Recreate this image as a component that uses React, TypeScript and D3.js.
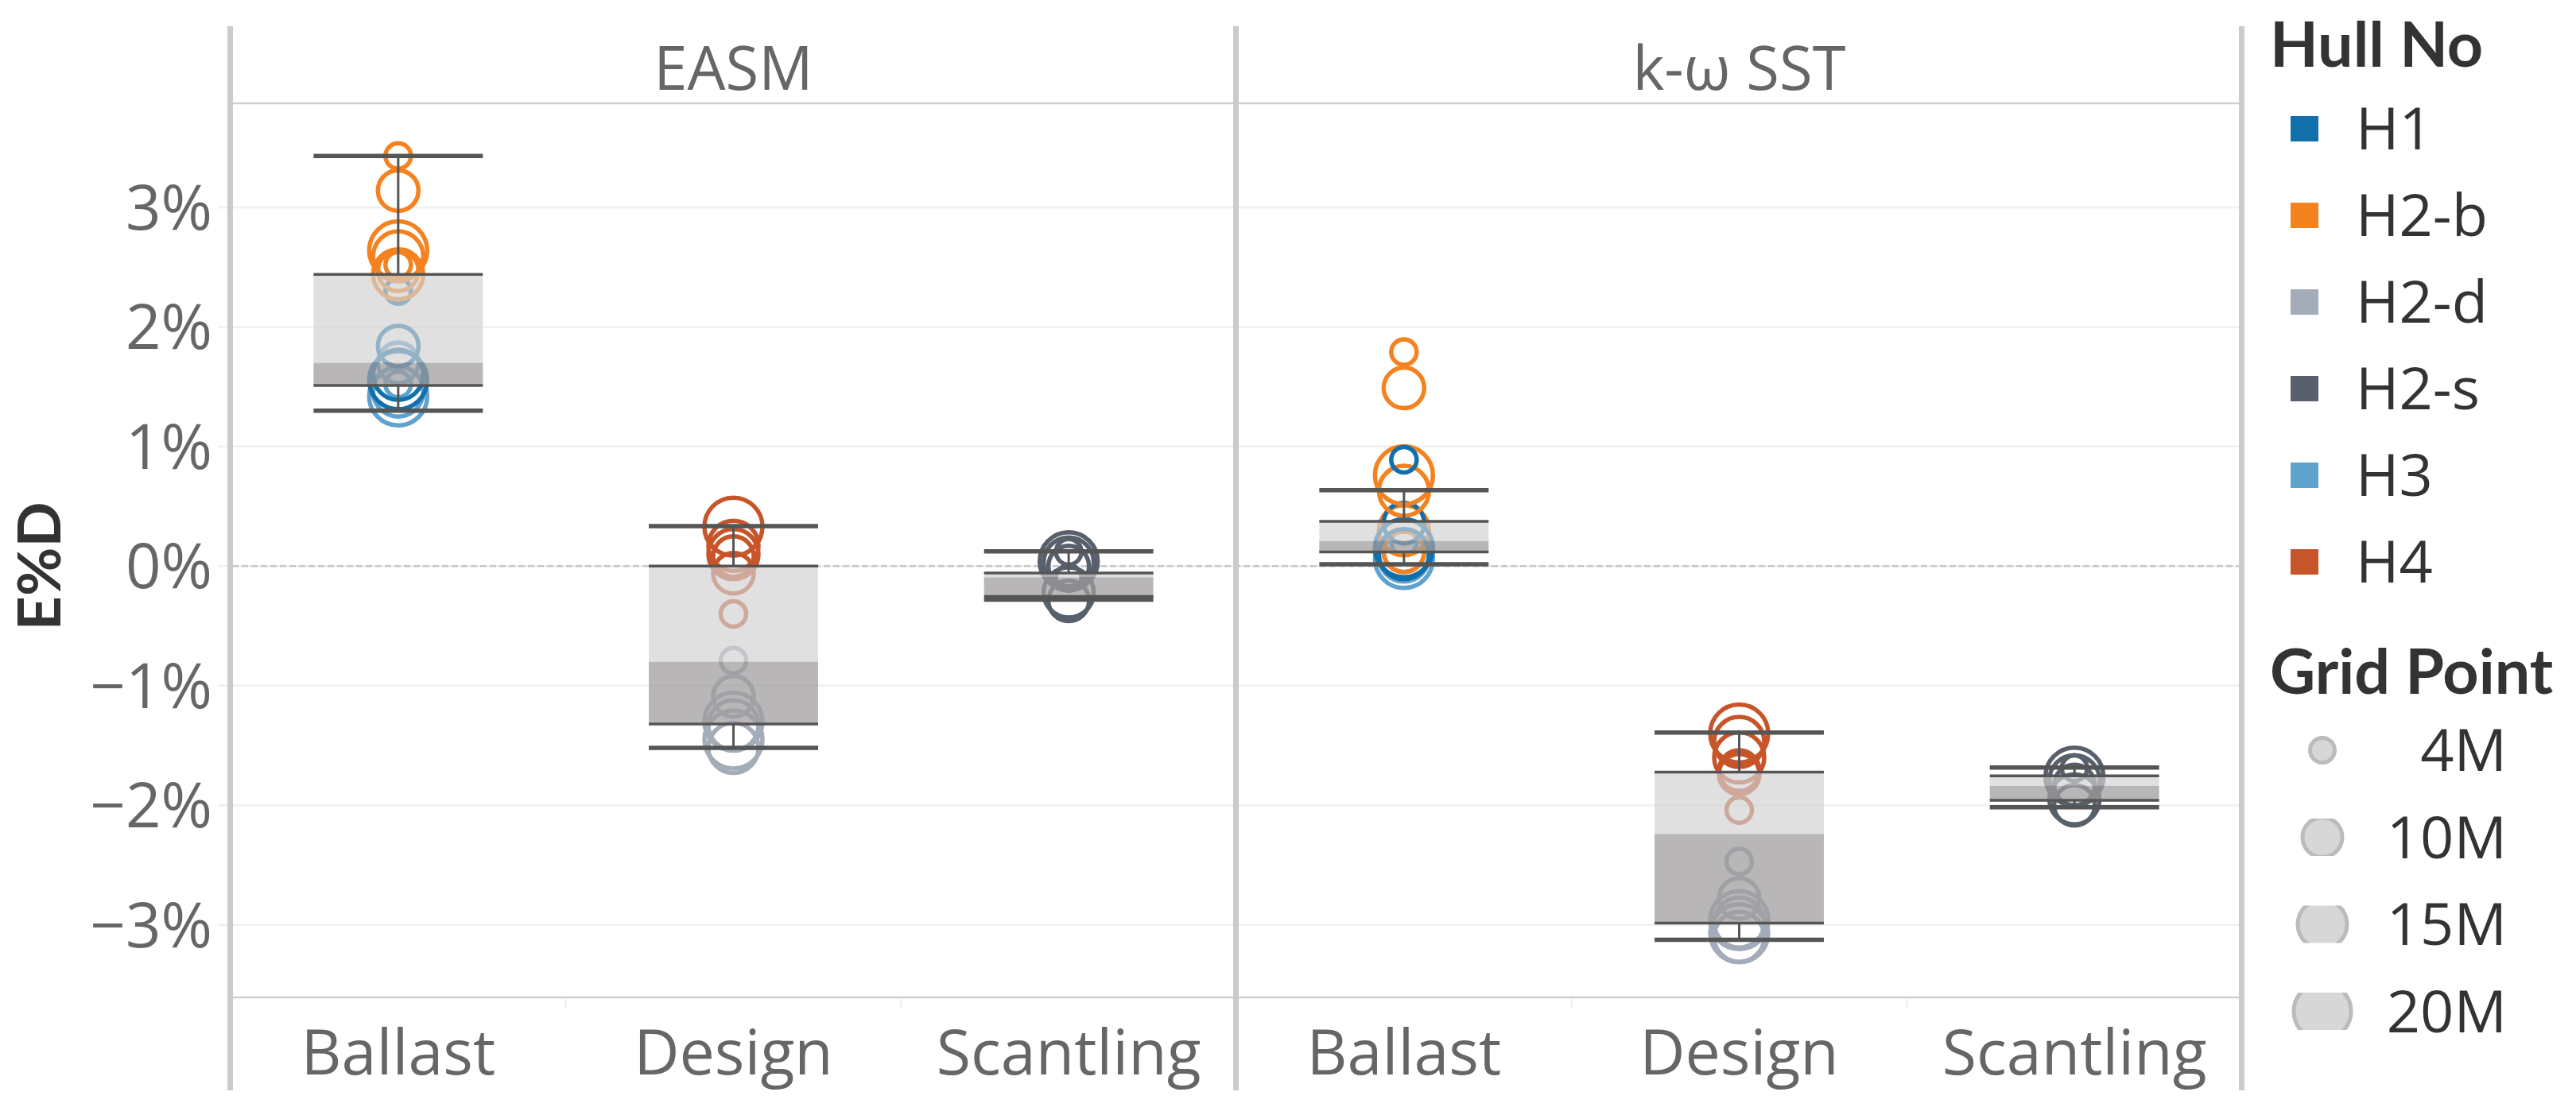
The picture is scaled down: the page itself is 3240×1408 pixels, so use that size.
import React from 'react';
import * as d3 from 'd3';

const methods = ['EASM', 'k-ω SST'];
const conditions = ['Ballast', 'Design', 'Scantling'];
const hulls = ['H1', 'H2-b', 'H2-d', 'H2-s', 'H3', 'H4'];
const hullColors = ['#1170aa', '#f5821f', '#a3acb9', '#57606c', '#5fa2ce', '#c8552a'];
const gridPoints = ['4M', '10M', '15M', '20M'];
const yTicks = [-3, -2, -1, 0, 1, 2, 3];

// points: [hull, grid point, E%D in %]
const easmBallast: [string, string, number][] = [
  ['H3', '20M', 1.42], ['H3', '15M', 1.46], ['H3', '4M', 1.52], ['H3', '10M', 1.70],
  ['H1', '20M', 1.555], ['H1', '15M', 1.60], ['H1', '10M', 1.84], ['H1', '4M', 2.30],
  ['H2-b', '15M', 2.44], ['H2-b', '10M', 2.47], ['H2-b', '4M', 2.52], ['H2-b', '15M', 2.59],
  ['H2-b', '20M', 2.64], ['H2-b', '10M', 3.14], ['H2-b', '4M', 3.43],
];
const easmDesign: [string, string, number][] = [
  ['H2-d', '15M', -1.52], ['H2-d', '20M', -1.45], ['H2-d', '15M', -1.33], ['H2-d', '20M', -1.30],
  ['H2-d', '10M', -1.09], ['H2-d', '4M', -0.79],
  ['H4', '4M', -0.40], ['H4', '10M', -0.06], ['H4', '10M', 0.08], ['H4', '15M', 0.10],
  ['H4', '15M', 0.17], ['H4', '20M', 0.33],
];
const easmScantling: [string, string, number][] = [
  ['H2-s', '10M', -0.29], ['H2-s', '15M', -0.22], ['H2-s', '4M', -0.10], ['H2-s', '10M', 0.0],
  ['H2-s', '15M', 0.03], ['H2-s', '20M', 0.04], ['H2-s', '4M', 0.12],
];
const kwBallast: [string, string, number][] = [
  ['H3', '20M', 0.06], ['H3', '15M', 0.08], ['H3', '10M', 0.12], ['H3', '4M', 0.20],
  ['H2-b', '10M', 0.12], ['H2-b', '15M', 0.30],
  ['H1', '15M', 0.10], ['H1', '20M', 0.15], ['H1', '10M', 0.36],
  ['H2-b', '15M', 0.63], ['H2-b', '20M', 0.76], ['H1', '4M', 0.89],
  ['H2-b', '10M', 1.49], ['H2-b', '4M', 1.79],
];
const kwDesign: [string, string, number][] = [
  ['H2-d', '15M', -3.10], ['H2-d', '20M', -3.07], ['H2-d', '15M', -2.98], ['H2-d', '20M', -2.96],
  ['H2-d', '10M', -2.78], ['H2-d', '4M', -2.47],
  ['H4', '4M', -2.04], ['H4', '10M', -1.74], ['H4', '10M', -1.71], ['H4', '15M', -1.60],
  ['H4', '15M', -1.47], ['H4', '20M', -1.40],
];
const kwScantling: [string, string, number][] = [
  ['H2-s', '10M', -2.00], ['H2-s', '15M', -1.95], ['H2-s', '10M', -1.83], ['H2-s', '15M', -1.79],
  ['H2-s', '20M', -1.76], ['H2-s', '4M', -1.69],
];

// box stats: [lower whisker, Q1, median, Q3, upper whisker]
const easmBallastBox = [1.30, 1.51, 1.70, 2.44, 3.43];
const easmDesignBox = [-1.52, -1.32, -0.80, 0.0, 0.334];
const easmScantlingBox = [-0.28, -0.253, -0.094, -0.057, 0.124];
const kwBallastBox = [0.015, 0.118, 0.21, 0.374, 0.635];
const kwDesignBox = [-3.124, -2.986, -2.239, -1.722, -1.392];
const kwScantlingBox = [-2.016, -1.959, -1.838, -1.754, -1.684];

const groups = [
  { method: 'EASM', condition: 'Ballast', points: easmBallast, box: easmBallastBox },
  { method: 'EASM', condition: 'Design', points: easmDesign, box: easmDesignBox },
  { method: 'EASM', condition: 'Scantling', points: easmScantling, box: easmScantlingBox },
  { method: 'k-ω SST', condition: 'Ballast', points: kwBallast, box: kwBallastBox },
  { method: 'k-ω SST', condition: 'Design', points: kwDesign, box: kwDesignBox },
  { method: 'k-ω SST', condition: 'Scantling', points: kwScantling, box: kwScantlingBox },
];

const W = 3240;
const H = 1408;
const REG = "'Open Sans', 'DejaVu Sans', sans-serif";
const BOLD = "Lato, 'Open Sans', sans-serif";

export default function App() {
  const plotTop = 130;
  const plotBottom = 1255;
  const x0 = 290;
  const x1 = 2820;

  const y = d3.scaleLinear().domain([-3.6, 3.87]).range([1254, 130]);
  const facet = d3.scaleBand<string>().domain(methods).range([x0, x1]);
  const inner = d3.scaleBand<string>().domain(conditions).range([0, facet.bandwidth()]);
  const color = d3.scaleOrdinal<string, string>().domain(hulls).range(hullColors);
  const radius = d3.scaleOrdinal<string, number>().domain(gridPoints).range([16, 25.5, 31.5, 36.5]);
  const fmt = (v: number) => d3.format('.0%')(v / 100);

  const cx = (m: string, c: string) => (facet(m) as number) + (inner(c) as number) + inner.bandwidth() / 2;
  const boxW = inner.bandwidth() * 0.505;

  const dark = '#555555';
  const borderXs = [x0, facet('k-ω SST') as number, x1];

  const legendX = 2855;
  const swatchX = 2881;
  const hullRowY = (i: number) => 162 + i * 109;
  const sizeRowY = (i: number) => 944 + i * 109.5;

  return (
    <svg width={W} height={H} viewBox={`0 0 ${W} ${H}`}
      style={{ position: 'absolute', left: 0, top: 0, background: '#fff' }}>
      <defs>
        {gridPoints.map((g, i) => (
          <clipPath id={`lclip${i}`} key={g}>
            <rect x={2860} y={sizeRowY(i) - 23.5} width={130} height={47} />
          </clipPath>
        ))}
      </defs>
      <rect x={0} y={0} width={W} height={H} fill="#fff" />

      {/* gridlines */}
      {yTicks.map(t => (
        <line key={`g${t}`} x1={274} x2={x1} y1={y(t)} y2={y(t)} stroke="#f0f0f0" strokeWidth={2.5} />
      ))}
      <line x1={x0 + 2} x2={x1} y1={y(0)} y2={y(0)} stroke="#c8c8c8" strokeWidth={2.5} strokeDasharray="8,4" />

      {/* header & bottom lines */}
      <line x1={x0} x2={x1} y1={plotTop} y2={plotTop} stroke="#cfcfcf" strokeWidth={2.5} />
      <line x1={x0} x2={x1} y1={plotBottom} y2={plotBottom} stroke="#cfcfcf" strokeWidth={2.5} />

      {/* small category separators at bottom */}
      {methods.map(m => conditions.slice(1).map(c => (
        <line key={`sep${m}${c}`} x1={(facet(m) as number) + (inner(c) as number)}
          x2={(facet(m) as number) + (inner(c) as number)} y1={plotBottom + 1} y2={plotBottom + 13}
          stroke="#f2f2f2" strokeWidth={3} />
      )))}

      {/* points */}
      {groups.map(g => g.points.map((p, i) => (
        <circle key={`${g.method}${g.condition}${i}`} cx={cx(g.method, g.condition)} cy={y(p[2])}
          r={radius(p[1])} fill="none" stroke={color(p[0])} strokeWidth={5.5} />
      )))}

      {/* boxes */}
      {groups.map(g => {
        const c = cx(g.method, g.condition);
        const [wl, q1, med, q3, wh] = g.box;
        const l = c - boxW / 2;
        return (
          <g key={`box${g.method}${g.condition}`}>
            <rect x={l} y={y(q3)} width={boxW} height={y(med) - y(q3)} fill="#d1d2d2" fillOpacity={0.68} />
            <rect x={l} y={y(med)} width={boxW} height={y(q1) - y(med)} fill="#9f9c9e" fillOpacity={0.74} />
            <line x1={c} x2={c} y1={y(wh)} y2={y(q3)} stroke={dark} strokeWidth={3} />
            <line x1={c} x2={c} y1={y(q1)} y2={y(wl)} stroke={dark} strokeWidth={3} />
            <line x1={l} x2={l + boxW} y1={y(q3)} y2={y(q3)} stroke={dark} strokeWidth={3.5} />
            <line x1={l} x2={l + boxW} y1={y(q1)} y2={y(q1)} stroke={dark} strokeWidth={3.5} />
            <line x1={l} x2={l + boxW} y1={y(wh)} y2={y(wh)} stroke={dark} strokeWidth={5.5} />
            <line x1={l} x2={l + boxW} y1={y(wl)} y2={y(wl)} stroke={dark} strokeWidth={5.5} />
          </g>
        );
      })}

      {/* panel borders */}
      {borderXs.map((bx, i) => (
        <rect key={`b${i}`} x={bx - 4} y={33} width={7} height={1339} fill="#cbcbcb" />
      ))}

      {/* facet headers */}
      {methods.map(m => (
        <text key={`h${m}`} x={(facet(m) as number) + facet.bandwidth() / 2} y={113}
          textAnchor="middle" fontFamily={REG} fontSize={76} fill="#666">{m}</text>
      ))}

      {/* x labels */}
      {methods.map(m => conditions.map(c => (
        <text key={`x${m}${c}`} x={cx(m, c)} y={1352} textAnchor="middle"
          fontFamily={REG} fontSize={79} fill="#666">{c}</text>
      )))}

      {/* y tick labels */}
      {yTicks.map(t => (
        <text key={`yl${t}`} x={267} y={y(t) + 28} textAnchor="end"
          fontFamily={REG} fontSize={78} fill="#666">{fmt(t)}</text>
      ))}

      {/* y title */}
      <text transform={`translate(76, ${y(0)}) rotate(-90)`} textAnchor="middle"
        fontFamily={BOLD} fontWeight={700} fontSize={75} fill="#333">E%D</text>

      {/* legend: hull */}
      <text x={legendX} y={84} fontFamily={BOLD} fontWeight={700} fontSize={79} fill="#333">Hull No</text>
      {hulls.map((h, i) => (
        <g key={`lh${h}`}>
          <rect x={swatchX} y={hullRowY(i) - 16} width={35} height={32} fill={color(h)} />
          <text x={2963} y={hullRowY(i) + 26} fontFamily={REG} fontSize={74} fill="#333">{h}</text>
        </g>
      ))}

      {/* legend: grid point */}
      <text x={legendX} y={873} fontFamily={BOLD} fontWeight={700} fontSize={79} fill="#333">Grid Point</text>
      {gridPoints.map((gp, i) => (
        <g key={`ls${gp}`}>
          <circle cx={2921} cy={sizeRowY(i)} r={radius(gp) - 0.5} fill="#d7d7d7" stroke="#bbbbbb"
            strokeWidth={5} clipPath={`url(#lclip${i})`} />
          <text x={3153} y={sizeRowY(i) + 26} textAnchor="end" fontFamily={REG} fontSize={74} fill="#333">{gp}</text>
        </g>
      ))}
    </svg>
  );
}
